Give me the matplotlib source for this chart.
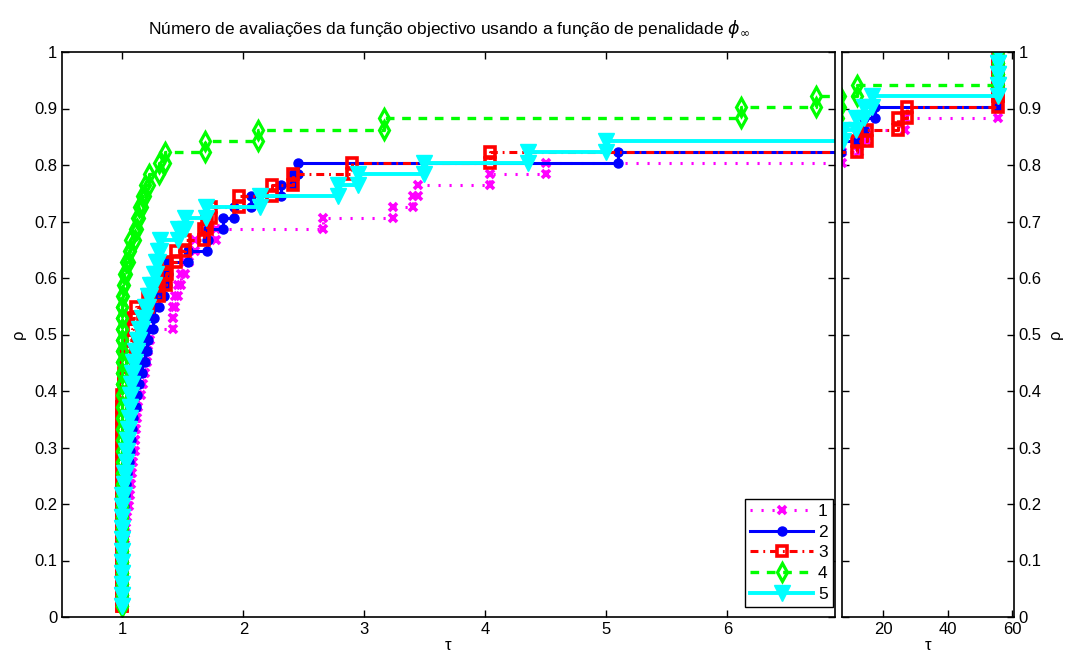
import numpy as np
import matplotlib
matplotlib.use("Agg")
import matplotlib.pyplot as plt

plt.rcParams['font.family'] = ['Liberation Sans', 'DejaVu Sans']
plt.rcParams['mathtext.fontset'] = 'dejavusans'

# performance ratios (sorted) of the 51 problems for each solver
solver_names = ['1', '2', '3', '4', '5']

ratios_1 = [1.0, 1.0, 1.0, 1.0, 1.0, 1.0,
            1.01, 1.02, 1.03, 1.04, 1.05, 1.066, 1.07, 1.08, 1.09, 1.10,
            1.107, 1.11, 1.12, 1.13, 1.15, 1.17, 1.19, 1.20, 1.21, 1.23,
            1.42, 1.42, 1.43, 1.46, 1.48, 1.52, 1.55, 1.60, 1.77, 2.66,
            3.24, 3.40, 3.44, 4.04, 4.50,
            7.2, 12.5, 15.0, 26.9,
            55.5, 55.5, 55.5, 55.5, 55.5, 55.5]

ratios_2 = [1.0, 1.0, 1.0, 1.0, 1.0, 1.0, 1.0, 1.0, 1.0, 1.0,
            1.01, 1.02, 1.03, 1.04, 1.05, 1.06, 1.07, 1.08, 1.09, 1.11,
            1.12, 1.14, 1.165, 1.19, 1.20, 1.215, 1.25, 1.26, 1.30, 1.34,
            1.37, 1.38, 1.54, 1.70, 1.71, 1.83, 1.92, 2.06, 2.31, 2.41, 2.45,
            5.10, 7.0, 12.0, 14.0, 17.5,
            55.5, 55.5, 55.5, 55.5, 55.5]

ratios_3 = [1.0, 1.0, 1.0, 1.0, 1.0, 1.0, 1.0, 1.0, 1.0, 1.0,
            1.0, 1.0, 1.0, 1.0, 1.0, 1.0, 1.0, 1.0, 1.0, 1.0,
            1.01, 1.015, 1.025, 1.03, 1.05, 1.08, 1.09,
            1.11, 1.21, 1.30, 1.36, 1.37, 1.44, 1.52, 1.67, 1.70, 1.73,
            1.96, 2.24, 2.41, 2.90, 4.04,
            12.0, 15.0, 24.5, 27.5,
            55.5, 55.5, 55.5, 55.5, 55.5]

ratios_4 = [1.0, 1.0, 1.0, 1.0, 1.0, 1.0, 1.0, 1.0, 1.0, 1.0,
            1.0, 1.0, 1.0, 1.0, 1.0, 1.0, 1.0, 1.0, 1.0, 1.0,
            1.0, 1.0, 1.0, 1.0, 1.0, 1.0, 1.0, 1.0, 1.0,
            1.003, 1.01, 1.025, 1.05, 1.066, 1.107, 1.12, 1.135, 1.163,
            1.19, 1.217, 1.30, 1.355,
            1.68, 2.12, 3.16, 6.11, 6.73, 11.9,
            55.5, 55.5, 55.5]

ratios_5 = [1.0, 1.0, 1.0, 1.0, 1.0, 1.0, 1.0, 1.0, 1.0, 1.0, 1.0,
            1.01, 1.015, 1.025, 1.03, 1.04, 1.045, 1.05, 1.06, 1.065,
            1.07, 1.08, 1.09, 1.10, 1.12, 1.14, 1.165, 1.19, 1.21, 1.23,
            1.26, 1.28, 1.29, 1.31,
            1.46, 1.52, 1.69, 2.14, 2.78, 2.95, 3.49, 4.35, 5.0,
            7.5, 11.5, 14.0, 16.5,
            55.5, 55.5, 55.5, 55.5]

all_ratios = [ratios_1, ratios_2, ratios_3, ratios_4, ratios_5]

left_ticks = [1, 2, 3, 4, 5, 6]
right_ticks = [20, 40, 60]
y_ticks = [0, 0.1, 0.2, 0.3, 0.4, 0.5, 0.6, 0.7, 0.8, 0.9, 1]
y_ticklabels = ['0', '0.1', '0.2', '0.3', '0.4', '0.5', '0.6', '0.7', '0.8', '0.9', '1']

styles = [
    dict(color='#ff00ff', ls=(0, (0.7, 2.9)), marker='x', ms=6, mew=2.6, lw=2.2),
    dict(color='#0000ff', ls='-', marker='o', ms=6.5, mfc='#0000ff', mec='#0000ff', lw=2.2),
    dict(color='#ff0000', ls=(0, (2.6, 1.6, 0.6, 1.6)), marker='s', ms=7.5, mfc='none', mew=2.6, lw=2.2),
    dict(color='#00ff00', ls=(0, (2.6, 2.3)), marker='d', ms=9, mfc='none', mew=2.3, lw=2.4),
    dict(color='#00ffff', ls='-', marker='v', ms=11, mfc='#00ffff', mec='#00ffff', lw=2.8),
]


def stairs(r):
    r = np.sort(np.asarray(r, dtype=float))
    n = len(r)
    y = np.arange(1, n + 1) / n
    xs = np.repeat(r, 2)[1:]
    ys = np.repeat(y, 2)[:-1]
    return xs, ys


fig = plt.figure(figsize=(10.67, 6.6), dpi=100)
W, H = 1067, 660
ax1 = fig.add_axes([62 / W, 1 - 617 / H, (835 - 62) / W, 565 / H])
ax2 = fig.add_axes([842 / W, 1 - 617 / H, (1014 - 842) / W, 565 / H])

handles = []
for name, r, st in zip(solver_names, all_ratios, styles):
    xs, ys = stairs(r)
    h, = ax1.plot(xs, ys, label=name, **st)
    ax2.plot(xs, ys, **st)
    handles.append(h)

ax1.set_xlim(0.5, 6.89)
ax2.set_xlim(7.2, 60.6)
for ax in (ax1, ax2):
    ax.set_ylim(0, 1)
    ax.set_yticks(y_ticks)
    ax.set_yticklabels(y_ticklabels)
    ax.tick_params(direction='in', length=5, width=1, labelsize=12,
                   top=True, bottom=True, left=True, right=True)
    for sp in ax.spines.values():
        sp.set_linewidth(1.2)
    ax.set_xlabel('τ', fontsize=12, labelpad=1)

ax1.set_xticks(left_ticks)
ax2.set_xticks(right_ticks)
ax1.tick_params(labelleft=True, labelright=False)
ax2.tick_params(labelleft=False, labelright=True)
ax1.set_ylabel('ρ', fontsize=12, labelpad=6)
ax2.yaxis.set_label_position('right')
ax2.set_ylabel('ρ', fontsize=12, labelpad=4)

ax1.set_title('Número de avaliações da função objectivo usando a função de penalidade $\\phi_{\\infty}$',
              fontsize=12.5, pad=13)

leg = ax1.legend(handles=handles, loc='lower right',
                 bbox_to_anchor=(833 / W, 1 - 607 / H), bbox_transform=fig.transFigure,
                 fontsize=12.5, handlelength=3.6, handletextpad=0.3, borderpad=0.3,
                 labelspacing=0.32, fancybox=False, framealpha=1,
                 edgecolor='black', borderaxespad=0.0)
leg.get_frame().set_linewidth(1.0)

fig.savefig('out.png', dpi=100)
